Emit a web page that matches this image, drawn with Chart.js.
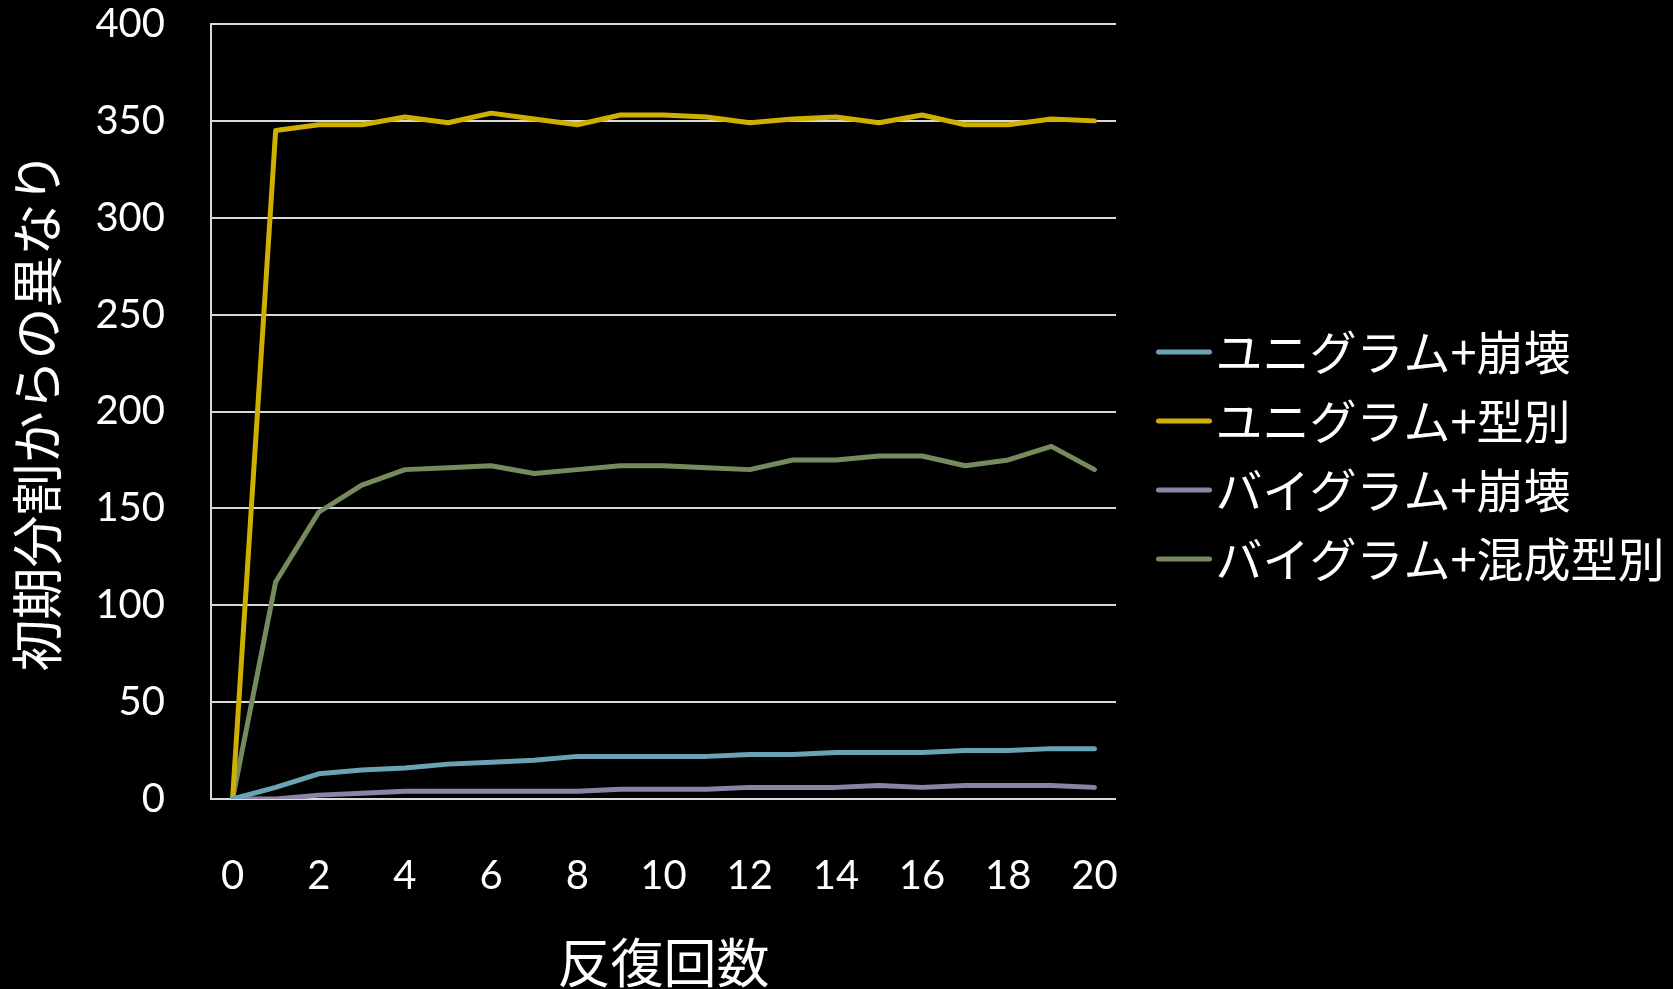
<!DOCTYPE html>
<html lang="ja">
<head>
<meta charset="utf-8">
<title>反復回数と初期分割からの異なり</title>
<script src="https://cdn.jsdelivr.net/npm/chart.js@4/dist/chart.umd.min.js"></script>
<style>
  html, body { margin: 0; padding: 0; background: #000; }
  #wrap { width: 1673px; height: 989px; position: relative; }
  canvas { display: block; }
</style>
</head>
<body>
<div id="wrap"><canvas id="chart" width="1673" height="989"></canvas></div>
<script>
// Iteration count (x axis categories)
const iterations = [0, 1, 2, 3, 4, 5, 6, 7, 8, 9, 10, 11, 12, 13, 14, 15, 16, 17, 18, 19, 20];

// Series names
const seriesNames = ['ユニグラム+崩壊', 'ユニグラム+型別', 'バイグラム+崩壊', 'バイグラム+混成型別'];

// Difference from the initial segmentation, per iteration
const unigramCollapse = [0, 6, 13, 15, 16, 18, 19, 20, 22, 22, 22, 22, 23, 23, 24, 24, 24, 25, 25, 26, 26];
const unigramType     = [0, 345, 348, 348, 352, 349, 354, 351, 348, 353, 353, 352, 349, 351, 352, 349, 353, 348, 348, 351, 350];
const bigramCollapse  = [0, 0, 2, 3, 4, 4, 4, 4, 4, 5, 5, 5, 6, 6, 6, 7, 6, 7, 7, 7, 6];
const bigramMixedType = [0, 112, 148, 162, 170, 171, 172, 168, 170, 172, 172, 171, 170, 175, 175, 177, 177, 172, 175, 182, 170];

// Axis settings
const yMin = 0, yMax = 400, yStep = 50;
const xLabelEvery = 2;

// Titles
const xTitle = '反復回数';
const yTitle = '初期分割からの異なり';

const colors = ['#6aa3b4', '#cfb000', '#8a84a4', '#758b5e'];
const FONT = "Lato, 'Noto Sans CJK JP', sans-serif";
const JP_FONT = "'Noto Sans CJK JP', sans-serif";

// Legend swatch: a short round-capped stroke drawn into a small canvas
function swatch(color) {
  const c = document.createElement('canvas');
  c.width = 100; c.height = 10;
  const g = c.getContext('2d');
  g.strokeStyle = color;
  g.lineWidth = 5;
  g.lineCap = 'round';
  g.beginPath();
  g.moveTo(43.5, 5);
  g.lineTo(94.5, 5);
  g.stroke();
  return c;
}

// Legend geometry
const legendFontSize = 47;
const legendPadding = 22;
const legendBox = 54;
const plotRight = 1116;
const legendWidth = 1673 - plotRight;

// Keeps the legend column at a fixed width
const fixedLegendWidth = {
  id: 'fixedLegendWidth',
  beforeLayout(chart) {
    const lg = chart.legend;
    if (lg && !lg.__fixedWidth) {
      const fit = lg.fit;
      lg.fit = function () {
        fit.call(this);
        this.width = legendWidth;
      };
      lg.__fixedWidth = true;
    }
  }
};

const seriesData = [unigramCollapse, unigramType, bigramCollapse, bigramMixedType];

const datasets = seriesNames.map((name, i) => ({
  label: name,
  data: seriesData[i],
  borderColor: colors[i],
  backgroundColor: colors[i],
  borderWidth: 5,
  borderJoinStyle: 'round',
  borderCapStyle: 'round',
  tension: 0,
  pointRadius: 0,
  pointHoverRadius: 0,
  pointStyle: swatch(colors[i]),
  fill: false
}));

new Chart(document.getElementById('chart'), {
  type: 'line',
  data: { labels: iterations, datasets },
  plugins: [fixedLegendWidth],
  options: {
    responsive: false,
    animation: false,
    devicePixelRatio: 1,
    events: [],
    layout: { padding: 0 },
    plugins: {
      tooltip: { enabled: false },
      legend: {
        position: 'right',
        align: 'start',
        title: {
          display: true,
          text: '',
          font: { size: 10, lineHeight: 1 },
          padding: { top: 296.5, bottom: 0 }
        },
        labels: {
          color: '#ffffff',
          font: { family: JP_FONT, size: legendFontSize },
          padding: legendPadding,
          usePointStyle: true,
          pointStyleWidth: legendBox,
          boxHeight: 10
        }
      }
    },
    scales: {
      x: {
        type: 'category',
        offset: true,
        grid: {
          display: true,
          drawOnChartArea: false,
          drawTicks: true,
          tickLength: 53,
          color: 'transparent',
          tickColor: 'transparent'
        },
        border: { display: false },
        ticks: {
          color: '#ffffff',
          font: { family: FONT, size: 40 },
          padding: 0,
          autoSkip: false,
          maxRotation: 0,
          callback: function (value, index) {
            return index % xLabelEvery === 0 ? String(iterations[index]) : '';
          }
        },
        title: {
          display: true,
          text: xTitle,
          color: '#ffffff',
          font: { family: JP_FONT, size: 53, lineHeight: 1 },
          padding: { top: 36, bottom: 0 }
        }
      },
      y: {
        min: yMin,
        max: yMax,
        grid: {
          color: '#d9d9d9',
          lineWidth: 2,
          drawTicks: true,
          tickLength: 46,
          tickColor: 'transparent'
        },
        border: { display: true, color: '#d9d9d9', width: 2 },
        ticks: {
          stepSize: yStep,
          color: '#ffffff',
          font: { family: FONT, size: 40 },
          padding: 0
        },
        title: {
          display: true,
          text: yTitle,
          color: '#ffffff',
          font: { family: JP_FONT, size: 52, lineHeight: 1 },
          padding: { top: 11, bottom: 0 }
        },
        afterFit: function (scale) { scale.width = 211; }
      }
    }
  }
});
</script>
</body>
</html>
